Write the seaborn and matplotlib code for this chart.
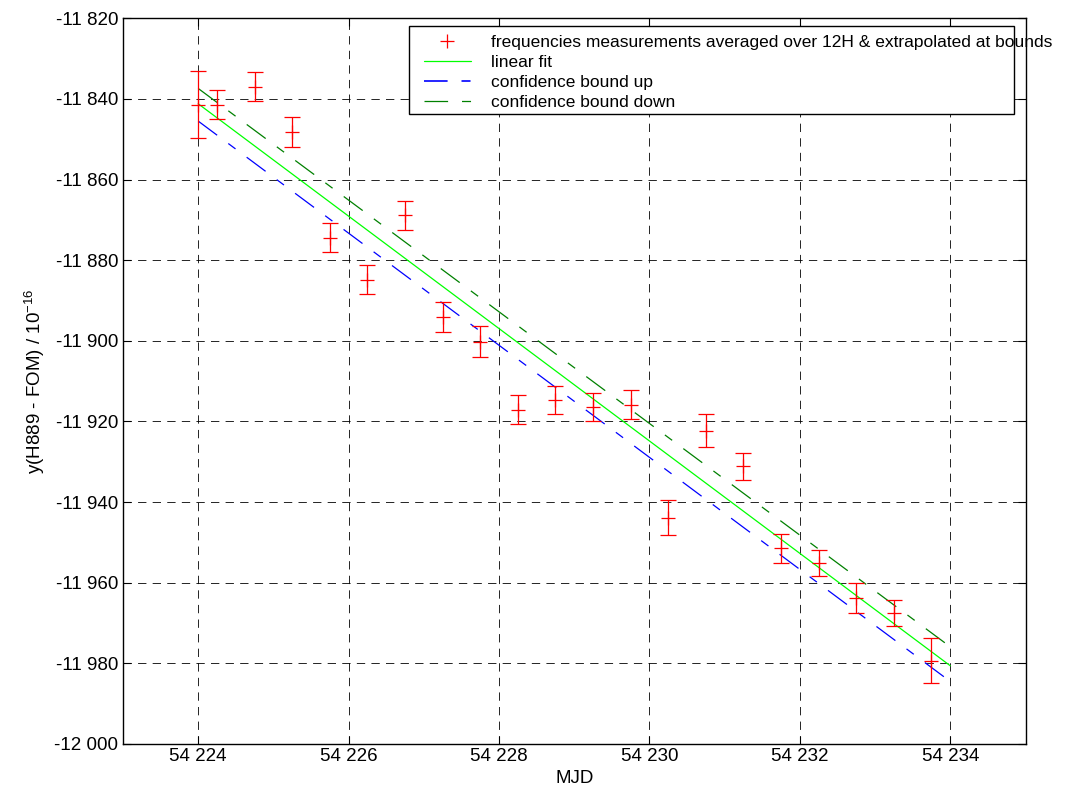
import matplotlib
matplotlib.use("Agg")
import matplotlib.pyplot as plt
from matplotlib.lines import Line2D
from matplotlib.patches import Rectangle
from matplotlib.ticker import FuncFormatter, MultipleLocator
import seaborn as sns

# measurements (MJD, value, half error bar)
mjd = [54224.0, 54224.25, 54224.75, 54225.25, 54225.75, 54226.25, 54226.75,
       54227.25, 54227.75, 54228.25, 54228.75, 54229.25, 54229.75, 54230.25,
       54230.75, 54231.25, 54231.75, 54232.25, 54232.75, 54233.25, 54233.75]
freq = [-11841.4, -11841.4, -11837.0, -11848.2, -11874.4, -11884.9, -11868.9,
        -11894.0, -11900.2, -11917.1, -11914.7, -11916.4, -11915.8, -11943.9,
        -11922.3, -11931.1, -11951.5, -11955.2, -11963.8, -11967.5, -11979.3]
freq_err = [8.3, 3.7, 3.6, 3.6, 3.6, 3.6, 3.6,
            3.7, 3.8, 3.6, 3.5, 3.4, 3.5, 4.3,
            4.1, 3.3, 3.6, 3.2, 3.7, 3.2, 5.5]

# fit and confidence bounds
fit_mjd = [54224.0, 54234.0]
fit_lin = [-11841.2, -11980.6]
bound_up = [-11845.5, -11984.5]
bound_down = [-11837.4, -11975.9]

labels = ["frequencies measurements averaged over 12H & extrapolated at bounds",
          "linear fit", "confidence bound up", "confidence bound down"]

sns.set_style("ticks")
plt.rcParams["font.family"] = ["Liberation Sans", "DejaVu Sans"]
plt.rcParams["mathtext.default"] = "regular"
plt.rcParams["lines.scale_dashes"] = False
plt.rcParams["text.color"] = "black"
plt.rcParams["axes.labelcolor"] = "black"

W, H = 1065, 789
fig = plt.figure(figsize=(W / 100, H / 100), dpi=100)
ax = fig.add_axes([123 / W, 45 / H, 902.5 / W, 725.7 / H])

dash_ci = (0, (17, 10, 6.5, 10))

sns.lineplot(x=fit_mjd, y=fit_lin, ax=ax, color="#00ff00", lw=0.9, zorder=2)
sns.lineplot(x=fit_mjd, y=bound_up, ax=ax, color="#0000ff", lw=0.9,
             linestyle=dash_ci, zorder=2)
sns.lineplot(x=fit_mjd, y=bound_down, ax=ax, color="#008000", lw=0.9,
             linestyle=dash_ci, zorder=2)

ax.errorbar(mjd, freq, yerr=freq_err, fmt="none", ecolor="#ff0000",
            elinewidth=0.9, capsize=5.8, capthick=0.9, zorder=3)
sns.scatterplot(x=mjd, y=freq, ax=ax, marker="+", color="#ff0000", s=90,
                linewidth=0.9, zorder=3)

ax.set_xlim(54223, 54235)
ax.set_ylim(-12000, -11820)
ax.xaxis.set_major_locator(MultipleLocator(2))
ax.yaxis.set_major_locator(MultipleLocator(20))
fmt = FuncFormatter(lambda v, p: f"{v:,.0f}".replace(",", " "))
ax.xaxis.set_major_formatter(fmt)
ax.yaxis.set_major_formatter(fmt)

ax.grid(True, color="black", lw=0.6, linestyle=(0, (6, 4.5)), zorder=0)
ax.set_axisbelow(True)
ax.tick_params(direction="in", length=6, width=0.8, top=True, right=True,
               labelsize=13.5, colors="black")
ax.tick_params(axis="x", pad=3)
ax.tick_params(axis="y", pad=3.6)
for s in ax.spines.values():
    s.set_color("black")
    s.set_linewidth(1.0)

ax.set_xlabel("MJD", fontsize=13.5)
ax.set_ylabel(r"y(H889 - FOM) / 10$^{-16}$", fontsize=13.5)
ax.xaxis.set_label_coords(0.5, -0.036)
ax.yaxis.set_label_coords(-0.084, 0.5)

# legend box (text runs past the frame, like the original)
ax.add_artist(Rectangle((409 / W, 1 - 114 / H), 605 / W, 88 / H,
                        transform=fig.transFigure, facecolor="white",
                        edgecolor="black", lw=1.0, zorder=4))
handles = [
    Line2D([], [], color="#ff0000", marker="+", ls="none", ms=9.5, mew=0.9),
    Line2D([], [], color="#00ff00", lw=0.9),
    Line2D([], [], color="#0000ff", lw=1.2, linestyle=dash_ci),
    Line2D([], [], color="#008000", lw=0.9, linestyle=dash_ci),
]
leg = ax.legend(handles, labels, loc="upper left",
                bbox_to_anchor=(415 / W, 1 - 26 / H),
                bbox_transform=fig.transFigure, borderaxespad=0,
                borderpad=0.5, handlelength=2.7, handletextpad=1.2,
                labelspacing=0.28, frameon=False, fontsize=12.5)
leg.set_zorder(5)

fig.savefig("out.png", dpi=100)
